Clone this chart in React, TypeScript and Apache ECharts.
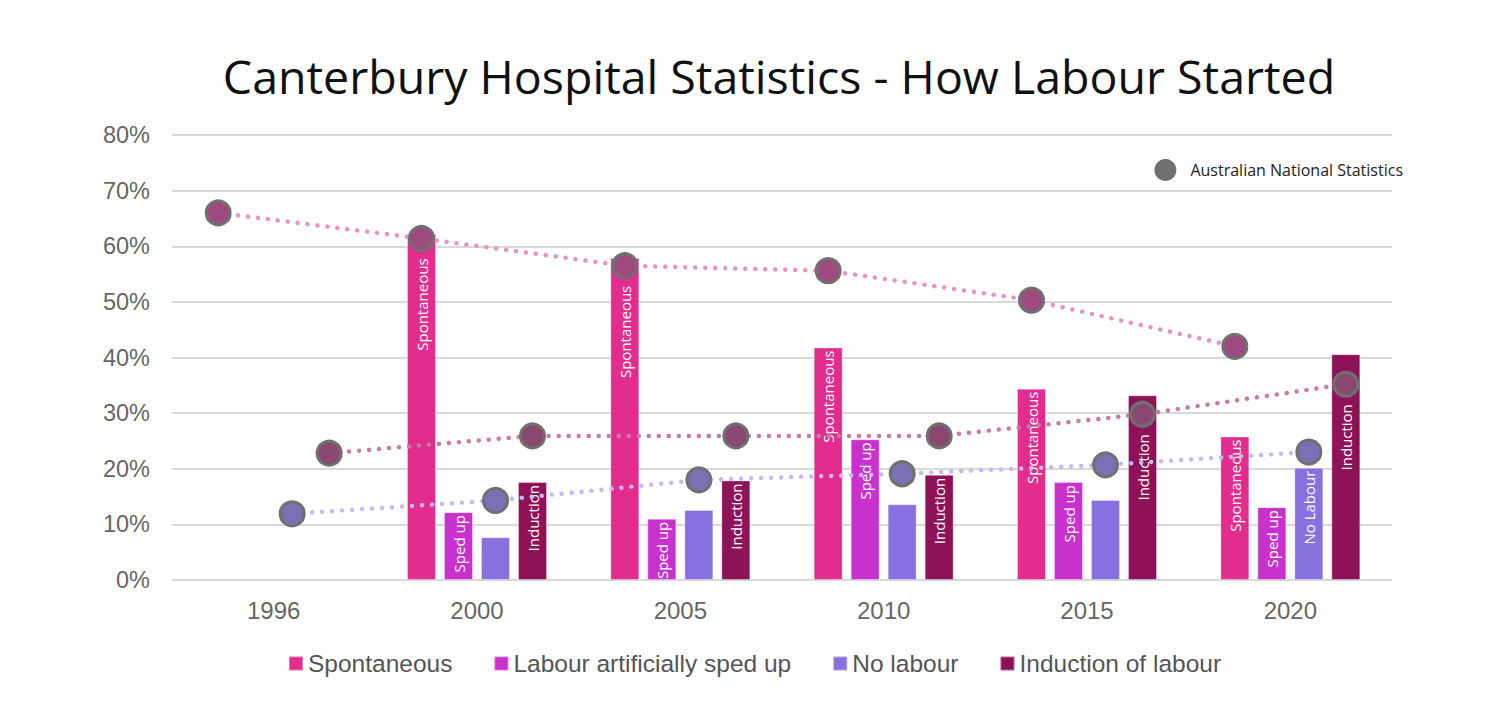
import React, { useEffect, useRef } from "react";
import * as echarts from "echarts";

const years = ["1996", "2000", "2005", "2010", "2015", "2020"];
const spontaneous = [null, 62.2, 57.9, 41.8, 34.4, 25.8];
const spedUp = [null, 12.2, 11.0, 25.3, 17.6, 13.1];
const noLabour = [null, 7.7, 12.6, 13.6, 14.4, 20.2];
const induction = [null, 17.6, 17.9, 18.9, 33.2, 40.6];

const spontaneousLabels = ["", "Spontaneous", "Spontaneous", "Spontaneous", "Spontaneous", "Spontaneous"];
const spedUpLabels = ["", "Sped up", "Sped up", "Sped up", "Sped up", "Sped up"];
const noLabourLabels = ["", "", "", "", "", "No Labour"];
const inductionLabels = ["", "Induction", "Induction", "Induction", "Induction", "Induction"];

// Australian National Statistics
const natSpontaneous = [66.0, 61.4, 56.5, 55.6, 50.3, 42.0];
const natNoLabour = [11.9, 14.3, 18.0, 19.1, 20.7, 23.0];
const natInduction = [22.8, 25.9, 25.9, 25.9, 29.8, 35.2];

const yTicks = [0, 10, 20, 30, 40, 50, 60, 70, 80];

const COLORS = {
  spont: "#E22D8E",
  sped: "#C931CE",
  none: "#8870DF",
  ind: "#8E1257",
};

const W = 1500;
const H = 708;
const GRID = { left: 172, right: 108, top: 135, bottom: 128 };

export default function App() {
  const ref = useRef<HTMLDivElement>(null);
  useEffect(() => {
    document.body.style.margin = "0";
    const chart = echarts.init(ref.current!, null, { renderer: "svg" });

    const yMin = yTicks[0];
    const yMax = yTicks[yTicks.length - 1];
    const pxPerUnit = (H - GRID.top - GRID.bottom) / (yMax - yMin);
    const symbolSize = 24;

    const barWidthPx = 29;
    const gapPx = 8;
    const catWidthPx = (W - GRID.left - GRID.right) / years.length;
    const step = (barWidthPx + gapPx) / catWidthPx;
    const offsets = [-1.5 * step, -0.5 * step, 0.5 * step, 1.5 * step];

    // push a bar's label below the national-statistics point when the point sits on it
    const mkLabel = (labels: string[], pts?: number[]) => (v: any, i: number) => {
      let distance = 3;
      if (pts && v != null) {
        const p = pts[i];
        const diffPx = (v - p) * pxPerUnit;
        if (diffPx > -symbolSize / 2 && diffPx < 80) {
          distance = diffPx + symbolSize / 2 + 8;
        }
      }
      return {
        value: v,
        label: {
          show: !!labels[i],
          formatter: labels[i],
          distance,
        },
      };
    };

    const barLabel = {
      position: "insideTop",
      rotate: 90,
      align: "right",
      verticalAlign: "middle",
      color: "#ffffff",
      fontSize: 15,
      fontFamily: "Open Sans",
    };

    const pts = (vals: number[], off: number) => vals.map((v, i) => [i + off, v]);

    const scatterData = [
      ...pts(natSpontaneous, offsets[0]).map((p) => ({ value: p, itemStyle: { color: "#9E4A7E" } })),
      ...pts(natNoLabour, offsets[2]).map((p) => ({ value: p, itemStyle: { color: "#7A70B5" } })),
      ...pts(natInduction, offsets[3]).map((p) => ({ value: p, itemStyle: { color: "#8A4870" } })),
    ];

    const dotLine = (name: string, vals: number[], off: number, color: string) => ({
      name,
      type: "line",
      xAxisIndex: 1,
      data: pts(vals, off),
      showSymbol: false,
      symbol: "none",
      z: 3,
      lineStyle: { color, width: 4.5, type: [0.01, 10], cap: "round" },
    });

    const barBase = {
      type: "bar",
      barWidth: barWidthPx,
      barGap: `${(gapPx / barWidthPx) * 100}%`,
      label: barLabel,
      z: 2,
    };

    chart.setOption({
      animation: false,
      backgroundColor: "#ffffff",
      title: {
        text: "Canterbury Hospital Statistics - How Labour Started",
        left: 774,
        textAlign: "center",
        top: 47,
        textStyle: { fontFamily: "Open Sans", fontSize: 46.5, fontWeight: "normal", color: "#111111" },
      },
      legend: [
        {
          data: ["Spontaneous", "Labour artificially sped up", "No labour", "Induction of labour"],
          left: 283,
          top: 646,
          itemWidth: 14,
          itemHeight: 14,
          itemGap: 41,
          icon: "rect",
          textStyle: { fontFamily: "Liberation Sans", fontSize: 24.5, color: "#555555", padding: [0, 0, 0, 0] },
        },
        {
          data: [{ name: "Australian National Statistics", icon: "circle", itemStyle: { color: "#707070", borderWidth: 0 } }],
          right: 92,
          top: 154,
          itemWidth: 22,
          itemHeight: 22,
          textStyle: { fontFamily: "Open Sans", fontSize: 16, color: "#222222", padding: [0, 0, 0, 9] },
        },
      ],
      grid: { ...GRID, containLabel: false },
      xAxis: [
        {
          type: "category",
          data: years,
          axisLine: { show: false },
          axisTick: { show: false },
          axisLabel: { fontFamily: "Liberation Sans", fontSize: 24, color: "#666666", margin: 18 },
        },
        {
          type: "value",
          min: -0.5,
          max: years.length - 0.5,
          show: false,
        },
      ],
      yAxis: {
        type: "value",
        min: yMin,
        max: yMax,
        interval: 10,
        axisLine: { show: false },
        axisTick: { show: false },
        axisLabel: { formatter: "{value}%", fontFamily: "Liberation Sans", fontSize: 23.5, color: "#666666", margin: 22 },
        splitLine: { lineStyle: { color: "#d9d9d9", width: 2 } },
      },
      series: [
        {
          ...barBase,
          name: "Spontaneous",
          data: spontaneous.map(mkLabel(spontaneousLabels, natSpontaneous)),
          itemStyle: { color: COLORS.spont, borderColor: "rgba(255,255,255,0.35)", borderWidth: 1 },
        },
        {
          ...barBase,
          name: "Labour artificially sped up",
          data: spedUp.map(mkLabel(spedUpLabels)),
          itemStyle: { color: COLORS.sped, borderColor: "rgba(255,255,255,0.35)", borderWidth: 1 },
        },
        {
          ...barBase,
          name: "No labour",
          data: noLabour.map(mkLabel(noLabourLabels, natNoLabour)),
          itemStyle: { color: COLORS.none, borderColor: "rgba(255,255,255,0.35)", borderWidth: 1 },
        },
        {
          ...barBase,
          name: "Induction of labour",
          data: induction.map(mkLabel(inductionLabels, natInduction)),
          itemStyle: { color: COLORS.ind, borderColor: "rgba(255,255,255,0.35)", borderWidth: 1 },
        },
        dotLine("natSpontLine", natSpontaneous, offsets[0], "#E593C2"),
        dotLine("natNoLabourLine", natNoLabour, offsets[2], "#C6B8F0"),
        dotLine("natInductionLine", natInduction, offsets[3], "#C57BA4"),
        {
          name: "Australian National Statistics",
          type: "scatter",
          xAxisIndex: 1,
          data: scatterData,
          symbolSize,
          z: 4,
          itemStyle: { color: "#707070", borderColor: "#707070", borderWidth: 3, opacity: 1 },
        },
      ],
    });
    return () => chart.dispose();
  }, []);
  return <div ref={ref} style={{ width: W, height: H }} />;
}
